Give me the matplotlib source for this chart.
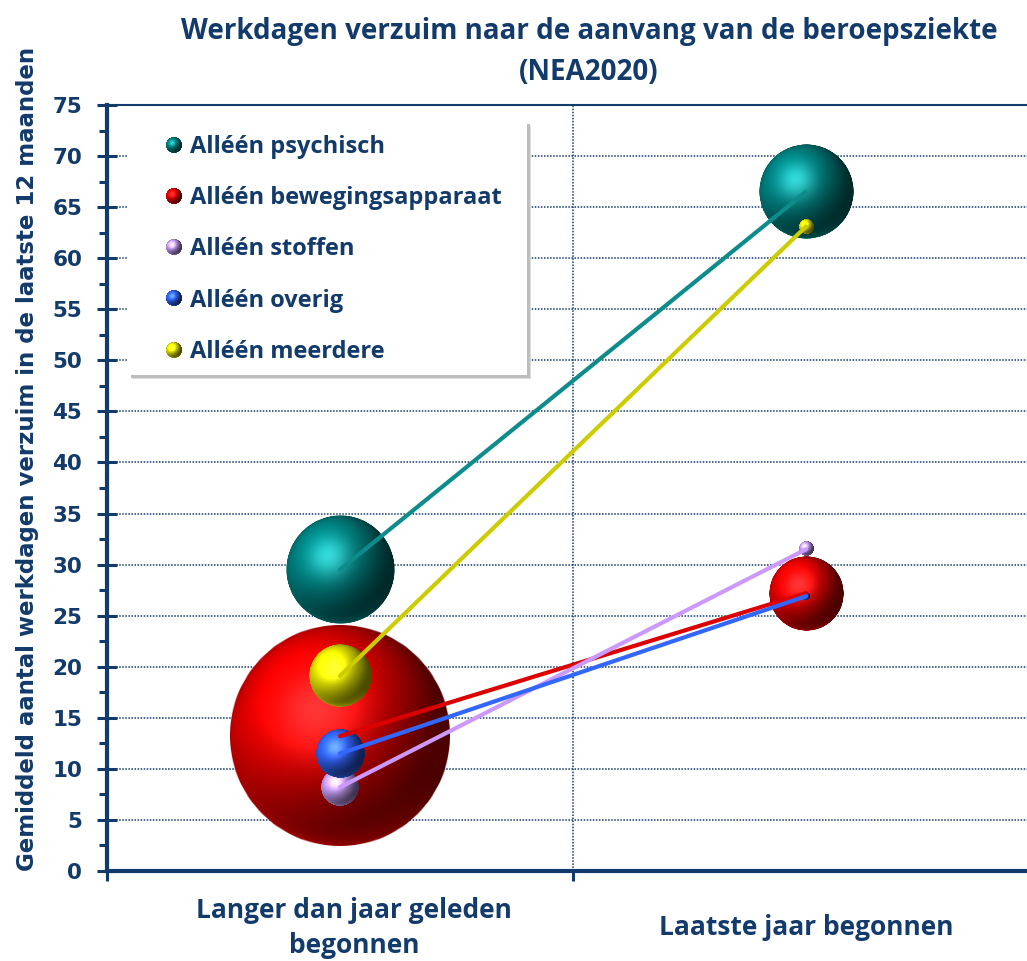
import numpy as np
import matplotlib
matplotlib.use('Agg')
import matplotlib.pyplot as plt
from matplotlib.colors import to_rgb
from matplotlib.lines import Line2D
from matplotlib.offsetbox import OffsetImage, AnnotationBbox
from matplotlib.patches import Rectangle
from matplotlib.ticker import MultipleLocator
from matplotlib.transforms import ScaledTranslation

# data
categories = ['Langer dan jaar geleden\nbegonnen', 'Laatste jaar begonnen']
series = ['Alléén psychisch', 'Alléén bewegingsapparaat', 'Alléén stoffen',
          'Alléén overig', 'Alléén meerdere']
dagen_langer = [29.5, 13.2, 8.2, 11.5, 19.1]
dagen_laatste = [66.5, 27.2, 31.5, 26.9, 63.1]
omvang_langer = [240, 1000, 29, 47, 78]
omvang_laatste = [180, 114, 4, 1, 4.5]

sphere_colors = ['#008282', '#e80000', '#c8a0f8', '#3064f8', '#e8e800']
line_colors = ['#0e8c8c', '#dd0000', '#cc99ff', '#3366ff', '#cccc00']
NAVY = '#123a6a'
TXT = 'Open Sans'

plt.rcParams['font.family'] = ['DejaVu Sans']
plt.rcParams['font.weight'] = 'bold'


def sphere(color, n=240):
    # schaduw-bol zoals in excel
    base = np.array(to_rgb(color))
    t = np.linspace(-1, 1, n)
    u, v = np.meshgrid(t, -t)
    d = np.sqrt(u**2 + v**2)
    z = np.sqrt(np.clip(1 - d**2, 0, 1))
    L = np.array([-0.4, 0.45, 0.8])
    L = L / np.linalg.norm(L)
    H = L + np.array([0, 0, 1.0])
    H = H / np.linalg.norm(H)
    diff = np.clip(u * L[0] + v * L[1] + z * L[2], 0, 1)
    spec = np.clip(u * H[0] + v * H[1] + z * H[2], 0, 1) ** 14
    rim = (1 - z) ** 1.5 * np.clip(-0.45 * u - 0.85 * v, 0, 1) * 0.45
    shade = 0.33 + 0.82 * diff ** 1.6 + rim
    light = base + (1 - base) * 0.55
    rgb = base[None, None, :] * shade[..., None] + 0.38 * spec[..., None] * light[None, None, :]
    rgb = np.clip(rgb, 0, 1)
    alpha = np.clip((1 - d) * n / 2, 0, 1)
    return np.dstack([rgb, alpha])


def radius_px(size):
    return 111 * np.sqrt(size / 1000)


fig = plt.figure(figsize=(10.27, 9.61), dpi=100, facecolor='white')
ax = fig.add_axes([107 / 1027, 1 - 871 / 961, 932 / 1027, 766 / 961])
ax.set_xlim(0, 2)
ax.set_ylim(0, 75)

x_pos = [0.5, 1.5]
for i, naam in enumerate(series):
    for x, y, s in zip(x_pos, [dagen_langer[i], dagen_laatste[i]],
                       [omvang_langer[i], omvang_laatste[i]]):
        img = sphere(sphere_colors[i])
        oi = OffsetImage(img, zoom=2 * radius_px(s) / img.shape[0], dpi_cor=False)
        ab = AnnotationBbox(oi, (x, y), xycoords='data', frameon=False, pad=0,
                            zorder=3 + i * 0.1, annotation_clip=False)
        ax.add_artist(ab)

for i, naam in enumerate(series):
    ax.plot(x_pos, [dagen_langer[i], dagen_laatste[i]], color=line_colors[i], lw=3,
            solid_capstyle='round', zorder=10 + i)

# assen
ax.set_yticks(np.arange(0, 76, 5))
ax.yaxis.set_minor_locator(MultipleLocator(2.5))
ax.tick_params(axis='y', which='major', direction='inout', length=13.7, width=2.2,
               pad=11, labelsize=15.5, labelcolor=NAVY, color=NAVY)
ax.tick_params(axis='y', which='minor', direction='out', length=5.8, width=2.2, color=NAVY)

ax.set_xticks([0, 1, 2])
ax.set_xticklabels([])
ax.set_xticks(x_pos, minor=True)
ax.set_xticklabels(categories, minor=True, fontfamily=TXT, fontsize=19,
                   color=NAVY, fontweight='bold')
ax.tick_params(axis='x', which='major', direction='out', length=7, width=2.2, color=NAVY)
ax.tick_params(axis='x', which='minor', length=0, pad=41)
for lbl in ax.get_xticklabels(minor=True):
    lbl.set_verticalalignment('center')
    lbl.set_linespacing(1.38)
# in excel staat het afgebroken label iets naar rechts
lbl0 = ax.get_xticklabels(minor=True)[0]
lbl0.set_transform(lbl0.get_transform() + ScaledTranslation(0.14, 0, fig.dpi_scale_trans))

ax.grid(True, axis='y', which='major', color=NAVY, ls=(0, (1, 1)), lw=1.1)
ax.grid(True, axis='x', which='major', color=NAVY, ls=(0, (1, 1)), lw=1.1)
ax.set_axisbelow(True)

for side in ['left', 'bottom']:
    ax.spines[side].set_linewidth(3)
    ax.spines[side].set_color(NAVY)
ax.spines['top'].set_linewidth(1.5)
ax.spines['top'].set_color(NAVY)
ax.spines['right'].set_visible(False)

# legenda: kader apart, zodat de maten gelijk zijn aan het origineel
kader_xy = ((128 - 107) / 932, (871 - 375) / 766)
kader_w, kader_h = (527 - 128) / 932, (375 - 122) / 766
for off, grijs in [(4, '#dcdcdc'), (2.5, '#bdbdbd')]:
    ax.add_patch(Rectangle(kader_xy, kader_w, kader_h, facecolor=grijs, edgecolor='none',
                           transform=ax.transAxes + ScaledTranslation(off / 100, -off / 100,
                                                                      fig.dpi_scale_trans),
                           zorder=18.5))
ax.add_patch(Rectangle(kader_xy, kader_w, kader_h, transform=ax.transAxes,
                       facecolor='white', edgecolor='none', zorder=19))

handles = [Line2D([], [], marker='o', ls='', markersize=12, markerfacecolor='none',
                  markeredgecolor='none') for _ in series]
leg = ax.legend(handles, series, loc='upper left', bbox_to_anchor=(0.0225, 0.976),
                borderaxespad=0, frameon=False,
                prop={'family': TXT, 'weight': 'bold', 'size': 17}, labelcolor=NAVY,
                labelspacing=1.15, handlelength=1.7, handletextpad=0.43, borderpad=0.5)
leg.set_zorder(20)

fig.text(28 / 1027, 1 - 459 / 961, 'Gemiddeld aantal werkdagen verzuim in de laatste 12 maanden',
         rotation=90, ha='center', va='center', fontsize=16.5, color=NAVY)
fig.text(589 / 1027, 1 - 52 / 961, 'Werkdagen verzuim naar de aanvang van de beroepsziekte\n(NEA2020)',
         ha='center', va='center', fontfamily=TXT, fontweight='bold', fontsize=20,
         color=NAVY, linespacing=1.55)

fig.canvas.draw()
renderer = fig.canvas.get_renderer()
for h, txt, kleur in zip(leg.legend_handles, leg.get_texts(), sphere_colors):
    bb = h.get_window_extent(renderer)
    tb = txt.get_window_extent(renderer)
    img = sphere(kleur)
    oi = OffsetImage(img, zoom=16 / img.shape[0], dpi_cor=False)
    ab = AnnotationBbox(oi, (tb.x0 - 16, (bb.y0 + bb.y1) / 2), xycoords='figure pixels',
                        frameon=False, pad=0, zorder=21)
    ax.add_artist(ab)

fig.savefig('out.png', dpi=100)
